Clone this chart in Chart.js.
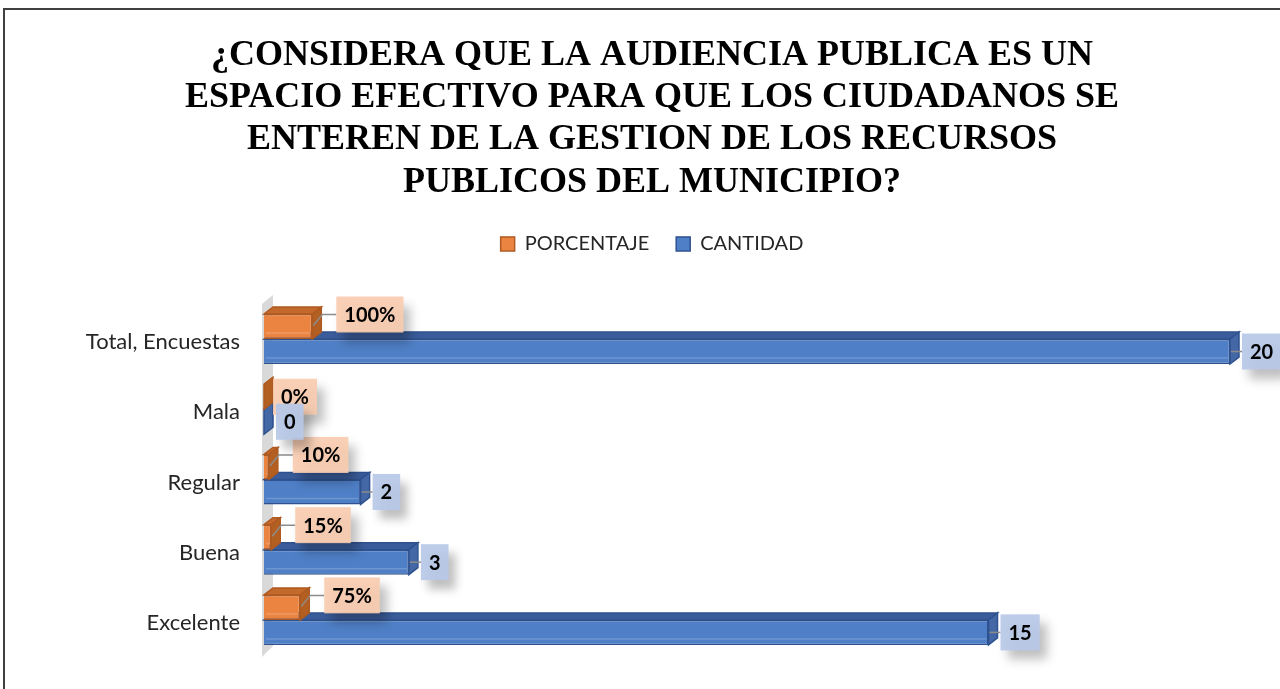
<!DOCTYPE html>
<html lang="es">
<head>
<meta charset="UTF-8">
<title>Audiencia publica</title>
<script src="https://cdn.jsdelivr.net/npm/chart.js"></script>
<style>
  html, body { margin: 0; padding: 0; background: #fff; }
</style>
</head>
<body>
<canvas id="grafico" width="1280" height="689"></canvas>
<script>
// datos
const categorias = ["Total, Encuestas", "Mala", "Regular", "Buena", "Excelente"];
const porcentaje = [1.00, 0, 0.10, 0.15, 0.75];
const cantidad = [20, 0, 2, 3, 15];
const titulo = [
  "¿CONSIDERA QUE LA AUDIENCIA PUBLICA ES UN",
  "ESPACIO EFECTIVO PARA QUE LOS CIUDADANOS SE",
  "ENTEREN DE LA GESTION DE LOS RECURSOS",
  "PUBLICOS DEL MUNICIPIO?"
];

// profundidad 3D
const DX = 9, DY = -7;
const caras = [
  { arriba: "#c4692c", lado: "#b35f22", borde: "#ae5a21" },
  { arriba: "#3a5c9a", lado: "#4467a6", borde: "#2f528f" }
];
const cajas = ["rgba(248,204,176,0.92)", "rgba(182,200,231,0.92)"];

const marco = {
  id: "marco",
  beforeDraw(chart) {
    const ctx = chart.ctx;
    ctx.save();
    ctx.fillStyle = "#404040";
    ctx.fillRect(3, 8, 1277, 2);
    ctx.fillRect(3, 8, 2, 681);
    ctx.restore();
  },
  beforeDatasetsDraw(chart) {
    const { left: L, top: T, bottom: B } = chart.chartArea;
    const ctx = chart.ctx;
    ctx.save();
    ctx.fillStyle = "#d9d9d9";
    ctx.beginPath();
    ctx.moveTo(L - 2, T);
    ctx.lineTo(L + DX, T - 9);
    ctx.lineTo(L + DX, B - 9);
    ctx.lineTo(L - 2, B + 2);
    ctx.closePath();
    ctx.fill();
    ctx.restore();
  },
  afterDatasetDraw(chart, args) {
    const ctx = chart.ctx;
    const c = caras[args.index];
    ctx.save();
    ctx.lineWidth = 1.5;
    ctx.strokeStyle = c.borde;
    args.meta.data.forEach(bar => {
      const { x, y, base, height } = bar.getProps(["x", "y", "base", "height"], true);
      const top = y - height / 2, bot = y + height / 2;
      // cara superior
      ctx.beginPath();
      ctx.moveTo(base, top);
      ctx.lineTo(base + DX, top + DY);
      ctx.lineTo(x + DX, top + DY);
      ctx.lineTo(x, top);
      ctx.closePath();
      ctx.fillStyle = c.arriba;
      ctx.fill();
      ctx.stroke();
      // cara lateral
      ctx.beginPath();
      ctx.moveTo(x, top);
      ctx.lineTo(x + DX, top + DY);
      ctx.lineTo(x + DX, bot + DY);
      ctx.lineTo(x, bot);
      ctx.closePath();
      ctx.fillStyle = c.lado;
      ctx.fill();
      ctx.stroke();
      // brillo del frente
      if (x - base > 4) {
        ctx.beginPath();
        ctx.moveTo(base + 2, bot - 6);
        ctx.lineTo(x - 2, bot - 6);
        ctx.strokeStyle = "rgba(255,255,255,0.18)";
        ctx.stroke();
        ctx.strokeStyle = c.borde;
      }
    });
    ctx.restore();
  }
};

const etiquetas = {
  id: "etiquetas",
  afterDatasetsDraw(chart) {
    const ctx = chart.ctx;
    ctx.save();
    ctx.font = "bold 20px Lato";
    ctx.textAlign = "center";
    ctx.textBaseline = "middle";
    chart.data.datasets.forEach((ds, i) => {
      chart.getDatasetMeta(i).data.forEach((bar, j) => {
        const v = ds.data[j];
        const txt = i === 0 ? Math.round(v * 100) + "%" : String(v);
        const w = ctx.measureText(txt).width + 16, h = 36;
        let bx, by;
        if (i === 0) {
          bx = v === 0 ? bar.x + 9 : bar.x + 24;
          by = v === 0 ? bar.y : bar.y - 12;
        } else {
          bx = bar.x + 12;
          by = bar.y;
        }
        // linea guia
        if (v > 0) {
          ctx.beginPath();
          ctx.strokeStyle = "#8c8c8c";
          ctx.lineWidth = 1.5;
          if (i === 0) {
            ctx.moveTo(bar.x + 1, bar.y - 1);
            ctx.lineTo(bar.x + DX + 1, by);
          } else {
            ctx.moveTo(bar.x + 1, bar.y);
          }
          ctx.lineTo(bx, by);
          ctx.stroke();
        }
        // caja con sombra
        ctx.save();
        ctx.shadowColor = "rgba(0,0,0,0.28)";
        ctx.shadowBlur = 10;
        ctx.shadowOffsetX = 7;
        ctx.shadowOffsetY = 9;
        ctx.fillStyle = cajas[i];
        ctx.fillRect(bx, by - h / 2, w, h);
        ctx.restore();
        ctx.fillStyle = "#000";
        ctx.fillText(txt, bx + w / 2, by + 1);
      });
    });
    ctx.restore();
  }
};

const leyendaAlta = {
  id: "leyendaAlta",
  beforeInit(chart) {
    const fit = chart.legend.fit;
    chart.legend.fit = function () {
      fit.call(this);
      this.height = 97;
    };
  }
};

new Chart(document.getElementById("grafico"), {
  type: "bar",
  data: {
    labels: categorias,
    datasets: [
      {
        label: "PORCENTAJE",
        data: porcentaje,
        backgroundColor: "#ec8441",
        borderColor: "#ae5a21",
        borderWidth: 1.5
      },
      {
        label: "CANTIDAD",
        data: cantidad,
        backgroundColor: "#4f7fc6",
        borderColor: "#2f528f",
        borderWidth: 1.5
      }
    ]
  },
  options: {
    indexAxis: "y",
    responsive: false,
    animation: false,
    categoryPercentage: 0.712,
    barPercentage: 1,
    layout: { padding: { left: 74, right: 50, top: 0, bottom: 34 } },
    scales: {
      x: { display: false, min: 0, max: 20 },
      y: {
        grid: { display: false },
        border: { display: false },
        ticks: { padding: 16, labelOffset: 3, color: "#262626", font: { family: "Lato", size: 22 } },
        afterFit: s => { s.width = 190; }
      }
    },
    plugins: {
      title: {
        display: true,
        text: titulo,
        color: "#000",
        font: { family: "Liberation Serif", size: 36, weight: "bold", lineHeight: 1.18 },
        padding: { top: 34, bottom: 3 }
      },
      legend: {
        position: "top",
        labels: {
          boxWidth: 14,
          boxHeight: 14,
          padding: 27,
          color: "#262626",
          font: { family: "Lato", size: 20 }
        }
      },
      tooltip: { enabled: false }
    }
  },
  plugins: [marco, etiquetas, leyendaAlta]
});
</script>
</body>
</html>
